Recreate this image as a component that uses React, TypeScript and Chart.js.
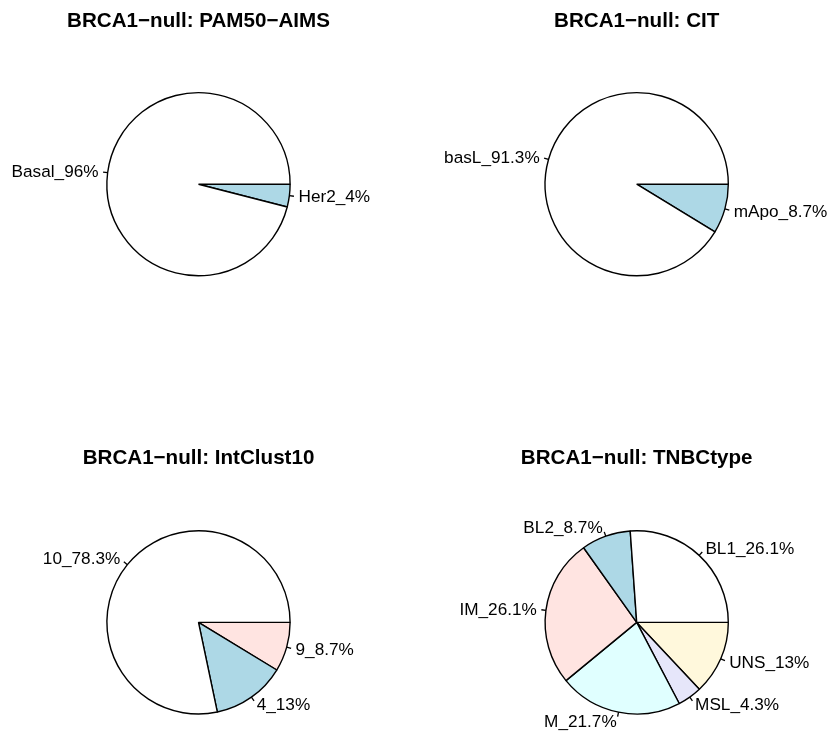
import React, { useEffect, useRef } from "react";
import { Chart, registerables } from "chart.js";

Chart.register(...registerables);

// Slice labels and percentages, listed counter-clockwise from 3 o'clock
const pamLabels = ["Basal", "Her2"];
const pamValues = [96, 4];

const citLabels = ["basL", "mApo"];
const citValues = [91.3, 8.7];

const icLabels = ["10", "4", "9"];
const icValues = [78.3, 13, 8.7];

const tnbcLabels = ["BL1", "BL2", "IM", "M", "MSL", "UNS"];
const tnbcValues = [26.1, 8.7, 26.1, 21.7, 4.3, 13];

const titles = [
  "BRCA1\u2212null: PAM50\u2212AIMS",
  "BRCA1\u2212null: CIT",
  "BRCA1\u2212null: IntClust10",
  "BRCA1\u2212null: TNBCtype",
];

const pieColors = ["#FFFFFF", "#ADD8E6", "#FFE4E1", "#E0FFFF", "#E6E6FA", "#FFF8DC"];

const FONT = '"Liberation Sans", Arial, Helvetica, sans-serif';
const LABEL_SIZE = 17.2;
const TITLE_SIZE = 20.6;

const PANEL_W = 415;
const PANEL_H = 366;
const R = 92.3;

type Panel = {
  title: string;
  labels: string[];
  values: number[];
  left: number;
  top: number;
  cx: number; // pie centre, panel-local
  cy: number;
  titleX: number;
  titleY: number; // baseline
};

const panels: Panel[] = [
  { title: titles[0], labels: pamLabels, values: pamValues, left: 0, top: 0, cx: 198.5, cy: 184.2, titleX: 198.5, titleY: 27 },
  { title: titles[1], labels: citLabels, values: citValues, left: 415, top: 0, cx: 221.7, cy: 184.2, titleX: 221.7, titleY: 27 },
  { title: titles[2], labels: icLabels, values: icValues, left: 0, top: 366, cx: 198.5, cy: 256.4, titleX: 198.5, titleY: 98 },
  { title: titles[3], labels: tnbcLabels, values: tnbcValues, left: 415, top: 366, cx: 221.7, cy: 256.4, titleX: 221.7, titleY: 98 },
];

function PiePanel({ p }: { p: Panel }) {
  const ref = useRef<HTMLCanvasElement>(null);

  useEffect(() => {
    if (!ref.current) return;
    // Chart.js draws clockwise, so feed the slices in reverse order
    const n = p.values.length;
    const data = [...p.values].reverse();
    const names = [...p.labels].reverse();
    const colors = pieColors.slice(0, n).reverse();
    const textLabels = names.map((nm, i) => `${nm}_${data[i]}%`);

    const labelPlugin = {
      id: "pieText",
      afterDatasetsDraw(chart: any) {
        const ctx = chart.ctx as CanvasRenderingContext2D;
        ctx.save();
        // title
        ctx.fillStyle = "#000";
        ctx.font = `bold ${TITLE_SIZE}px ${FONT}`;
        ctx.textAlign = "center";
        ctx.textBaseline = "alphabetic";
        ctx.fillText(p.title, p.titleX, p.titleY);

        // slice ticks and labels
        const meta = chart.getDatasetMeta(0);
        ctx.font = `${LABEL_SIZE}px ${FONT}`;
        ctx.strokeStyle = "#000";
        ctx.lineWidth = 1.3;
        meta.data.forEach((arc: any, i: number) => {
          const { x, y, startAngle, endAngle, outerRadius } = arc.getProps(
            ["x", "y", "startAngle", "endAngle", "outerRadius"],
            true
          );
          const mid = (startAngle + endAngle) / 2;
          const c = Math.cos(mid);
          const s = Math.sin(mid);
          ctx.beginPath();
          ctx.moveTo(x + c * outerRadius, y + s * outerRadius);
          ctx.lineTo(x + c * outerRadius * 1.05, y + s * outerRadius * 1.05);
          ctx.stroke();
          const lx = x + c * outerRadius * 1.1;
          const ly = y + s * outerRadius * 1.1;
          ctx.textAlign = c < 0 ? "right" : "left";
          ctx.fillText(textLabels[i], lx, ly + 0.32 * LABEL_SIZE);
        });
        ctx.restore();
      },
    };

    const chart = new Chart(ref.current, {
      type: "pie",
      data: {
        labels: textLabels,
        datasets: [
          {
            data,
            backgroundColor: colors,
            borderColor: "#000",
            borderWidth: 1.4,
            hoverOffset: 0,
          },
        ],
      },
      options: {
        responsive: false,
        animation: false,
        rotation: 90,
        events: [],
        layout: {
          padding: {
            left: p.cx - R,
            right: PANEL_W - (p.cx + R),
            top: p.cy - R,
            bottom: PANEL_H - (p.cy + R),
          },
        },
        plugins: {
          legend: { display: false },
          title: { display: false },
          tooltip: { enabled: false },
        },
      },
      plugins: [labelPlugin],
    });
    return () => chart.destroy();
  }, [p]);

  return (
    <canvas
      ref={ref}
      width={PANEL_W}
      height={PANEL_H}
      style={{ position: "absolute", left: p.left, top: p.top, width: PANEL_W, height: PANEL_H }}
    />
  );
}

export default function App() {
  return (
    <div
      style={{
        position: "absolute",
        left: 0,
        top: 0,
        width: 830,
        height: 732,
        background: "#fff",
        overflow: "hidden",
      }}
    >
      {panels.map((p, i) => (
        <PiePanel key={i} p={p} />
      ))}
    </div>
  );
}
